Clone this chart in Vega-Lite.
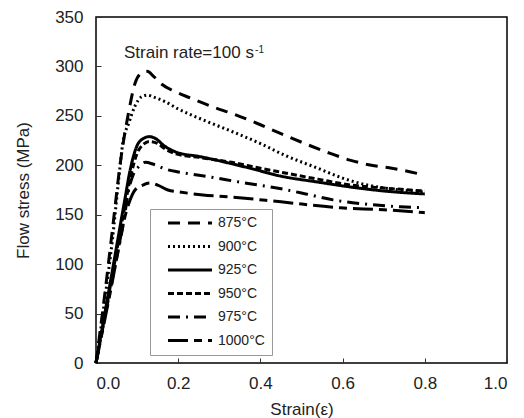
{
  "$schema": "https://vega.github.io/schema/vega-lite/v6.json",
  "width": 411,
  "height": 346,
  "autosize": {"type": "none"},
  "padding": {"left": 96, "top": 17, "right": 17, "bottom": 55},
  "background": "white",
  "config": {
    "font": "Liberation Sans",
    "view": {"stroke": "#000", "strokeWidth": 1.5},
    "axis": {"grid": false, "domain": false, "labelColor": "#222", "titleColor": "#222", "labelFont": "Liberation Sans", "titleFont": "Liberation Sans", "titleFontWeight": "normal", "tickColor": "#333", "tickWidth": 1}
  },
  "datasets": {
    "curves": [
      {"temp": "875°C", "strain": 0, "stress": 0},
      {"temp": "875°C", "strain": 0.02, "stress": 65},
      {"temp": "875°C", "strain": 0.04, "stress": 135},
      {"temp": "875°C", "strain": 0.06, "stress": 205},
      {"temp": "875°C", "strain": 0.08, "stress": 255},
      {"temp": "875°C", "strain": 0.095, "stress": 283},
      {"temp": "875°C", "strain": 0.11, "stress": 293},
      {"temp": "875°C", "strain": 0.125, "stress": 295},
      {"temp": "875°C", "strain": 0.14, "stress": 290},
      {"temp": "875°C", "strain": 0.16, "stress": 282},
      {"temp": "875°C", "strain": 0.19, "stress": 275},
      {"temp": "875°C", "strain": 0.23, "stress": 268},
      {"temp": "875°C", "strain": 0.285, "stress": 259},
      {"temp": "875°C", "strain": 0.34, "stress": 251},
      {"temp": "875°C", "strain": 0.4, "stress": 241},
      {"temp": "875°C", "strain": 0.45, "stress": 232},
      {"temp": "875°C", "strain": 0.52, "stress": 220},
      {"temp": "875°C", "strain": 0.57, "stress": 212},
      {"temp": "875°C", "strain": 0.62, "stress": 205},
      {"temp": "875°C", "strain": 0.67, "stress": 200},
      {"temp": "875°C", "strain": 0.72, "stress": 197},
      {"temp": "875°C", "strain": 0.8, "stress": 190},

      {"temp": "900°C", "strain": 0, "stress": 0},
      {"temp": "900°C", "strain": 0.02, "stress": 60},
      {"temp": "900°C", "strain": 0.04, "stress": 125},
      {"temp": "900°C", "strain": 0.055, "stress": 185},
      {"temp": "900°C", "strain": 0.065, "stress": 222},
      {"temp": "900°C", "strain": 0.08, "stress": 243},
      {"temp": "900°C", "strain": 0.095, "stress": 260},
      {"temp": "900°C", "strain": 0.11, "stress": 269},
      {"temp": "900°C", "strain": 0.125, "stress": 271},
      {"temp": "900°C", "strain": 0.14, "stress": 269},
      {"temp": "900°C", "strain": 0.165, "stress": 265},
      {"temp": "900°C", "strain": 0.2, "stress": 257},
      {"temp": "900°C", "strain": 0.26, "stress": 246},
      {"temp": "900°C", "strain": 0.32, "stress": 236},
      {"temp": "900°C", "strain": 0.4, "stress": 222},
      {"temp": "900°C", "strain": 0.46, "stress": 210},
      {"temp": "900°C", "strain": 0.54, "stress": 197},
      {"temp": "900°C", "strain": 0.6, "stress": 187},
      {"temp": "900°C", "strain": 0.66, "stress": 180},
      {"temp": "900°C", "strain": 0.72, "stress": 176},
      {"temp": "900°C", "strain": 0.8, "stress": 173},

      {"temp": "925°C", "strain": 0, "stress": 0},
      {"temp": "925°C", "strain": 0.035, "stress": 82},
      {"temp": "925°C", "strain": 0.07, "stress": 165},
      {"temp": "925°C", "strain": 0.083, "stress": 195},
      {"temp": "925°C", "strain": 0.099, "stress": 219},
      {"temp": "925°C", "strain": 0.115, "stress": 227},
      {"temp": "925°C", "strain": 0.13, "stress": 229},
      {"temp": "925°C", "strain": 0.145, "stress": 227},
      {"temp": "925°C", "strain": 0.165, "stress": 220},
      {"temp": "925°C", "strain": 0.197, "stress": 213},
      {"temp": "925°C", "strain": 0.25, "stress": 209},
      {"temp": "925°C", "strain": 0.326, "stress": 202},
      {"temp": "925°C", "strain": 0.375, "stress": 197},
      {"temp": "925°C", "strain": 0.45, "stress": 189},
      {"temp": "925°C", "strain": 0.54, "stress": 183},
      {"temp": "925°C", "strain": 0.62, "stress": 178},
      {"temp": "925°C", "strain": 0.7, "stress": 174},
      {"temp": "925°C", "strain": 0.8, "stress": 171},

      {"temp": "950°C", "strain": 0, "stress": 0},
      {"temp": "950°C", "strain": 0.035, "stress": 78},
      {"temp": "950°C", "strain": 0.07, "stress": 158},
      {"temp": "950°C", "strain": 0.085, "stress": 190},
      {"temp": "950°C", "strain": 0.1, "stress": 212},
      {"temp": "950°C", "strain": 0.115, "stress": 221},
      {"temp": "950°C", "strain": 0.13, "stress": 224},
      {"temp": "950°C", "strain": 0.15, "stress": 222},
      {"temp": "950°C", "strain": 0.17, "stress": 216},
      {"temp": "950°C", "strain": 0.2, "stress": 211},
      {"temp": "950°C", "strain": 0.25, "stress": 208},
      {"temp": "950°C", "strain": 0.33, "stress": 203},
      {"temp": "950°C", "strain": 0.4, "stress": 197},
      {"temp": "950°C", "strain": 0.45, "stress": 193},
      {"temp": "950°C", "strain": 0.54, "stress": 186},
      {"temp": "950°C", "strain": 0.62, "stress": 180},
      {"temp": "950°C", "strain": 0.7, "stress": 177},
      {"temp": "950°C", "strain": 0.8, "stress": 174},

      {"temp": "975°C", "strain": 0, "stress": 0},
      {"temp": "975°C", "strain": 0.035, "stress": 75},
      {"temp": "975°C", "strain": 0.07, "stress": 150},
      {"temp": "975°C", "strain": 0.078, "stress": 172},
      {"temp": "975°C", "strain": 0.09, "stress": 190},
      {"temp": "975°C", "strain": 0.105, "stress": 199},
      {"temp": "975°C", "strain": 0.12, "stress": 203},
      {"temp": "975°C", "strain": 0.14, "stress": 201},
      {"temp": "975°C", "strain": 0.17, "stress": 196},
      {"temp": "975°C", "strain": 0.204, "stress": 193},
      {"temp": "975°C", "strain": 0.28, "stress": 188},
      {"temp": "975°C", "strain": 0.35, "stress": 183},
      {"temp": "975°C", "strain": 0.44, "stress": 177},
      {"temp": "975°C", "strain": 0.5, "stress": 172},
      {"temp": "975°C", "strain": 0.577, "stress": 165},
      {"temp": "975°C", "strain": 0.65, "stress": 161},
      {"temp": "975°C", "strain": 0.74, "stress": 158},
      {"temp": "975°C", "strain": 0.8, "stress": 157},

      {"temp": "1000°C", "strain": 0, "stress": 0},
      {"temp": "1000°C", "strain": 0.035, "stress": 72},
      {"temp": "1000°C", "strain": 0.075, "stress": 155},
      {"temp": "1000°C", "strain": 0.083, "stress": 165},
      {"temp": "1000°C", "strain": 0.095, "stress": 175},
      {"temp": "1000°C", "strain": 0.114, "stress": 180},
      {"temp": "1000°C", "strain": 0.131, "stress": 182},
      {"temp": "1000°C", "strain": 0.15, "stress": 180},
      {"temp": "1000°C", "strain": 0.175, "stress": 175},
      {"temp": "1000°C", "strain": 0.204, "stress": 173},
      {"temp": "1000°C", "strain": 0.26, "stress": 170},
      {"temp": "1000°C", "strain": 0.326, "stress": 168},
      {"temp": "1000°C", "strain": 0.45, "stress": 163},
      {"temp": "1000°C", "strain": 0.594, "stress": 157},
      {"temp": "1000°C", "strain": 0.7, "stress": 155},
      {"temp": "1000°C", "strain": 0.8, "stress": 152}
    ],
    "notes": [
      {"strain": 0.068, "stress": 309, "label": "Strain rate=100 s", "size": "big"},
      {"strain": 0.387, "stress": 314, "label": "-1", "size": "small"}
    ]
  },
  "layer": [
    {
      "data": {"name": "curves"},
      "mark": {"type": "line", "stroke": "black", "strokeWidth": 3, "interpolate": "monotone", "strokeCap": "butt"},
      "encoding": {
        "x": {"field": "strain", "type": "quantitative", "scale": {"domain": [0, 1], "nice": false},
          "axis": {"values": [0, 0.2, 0.4, 0.6, 0.8, 1.0], "format": ".1f", "title": "Strain(ε)", "labelFontSize": 17, "titleFontSize": 17, "tickSize": -5, "labelPadding": 17, "titlePadding": 10}},
        "y": {"field": "stress", "type": "quantitative", "scale": {"domain": [0, 350], "nice": false},
          "axis": {"values": [0, 50, 100, 150, 200, 250, 300, 350], "title": "Flow stress (MPa)", "labelFontSize": 17, "titleFontSize": 17, "tickSize": -5, "labelPadding": 18, "titlePadding": 22}},
        "strokeDash": {"field": "temp", "type": "nominal",
          "scale": {"domain": ["875°C", "900°C", "925°C", "950°C", "975°C", "1000°C"],
                    "range": [[12, 8], [2, 3], [1, 0], [6, 3], [12, 6, 2, 6], [20, 6, 8, 6]]},
          "legend": {"orient": "none", "legendX": 54, "legendY": 192, "title": null,
            "strokeColor": "#999", "fillColor": "white", "padding": 7,
            "symbolType": "M-4,0H4", "symbolSize": 121, "symbolStrokeWidth": 3, "symbolStrokeColor": "black", "symbolFillColor": "transparent",
            "symbolOffset": 26, "labelOffset": 21, "labelFontSize": 14, "labelColor": "#222", "rowPadding": 9.5,
            "labelExpr": "datum.label + '    '"}}
      }
    },
    {
      "data": {"name": "notes"},
      "transform": [{"filter": "datum.size == 'big'"}],
      "mark": {"type": "text", "align": "left", "baseline": "alphabetic", "fontSize": 17, "color": "#222"},
      "encoding": {
        "x": {"field": "strain", "type": "quantitative"},
        "y": {"field": "stress", "type": "quantitative"},
        "text": {"field": "label"}
      }
    },
    {
      "data": {"name": "notes"},
      "transform": [{"filter": "datum.size == 'small'"}],
      "mark": {"type": "text", "align": "left", "baseline": "alphabetic", "fontSize": 10, "color": "#222"},
      "encoding": {
        "x": {"field": "strain", "type": "quantitative"},
        "y": {"field": "stress", "type": "quantitative"},
        "text": {"field": "label"}
      }
    }
  ]
}
